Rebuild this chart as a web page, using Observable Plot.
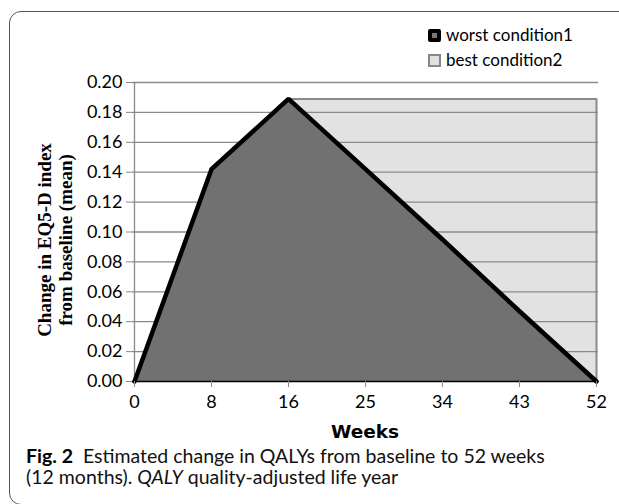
<!DOCTYPE html>
<html>
<head>
<meta charset="utf-8">
<script src="https://cdn.jsdelivr.net/npm/d3@7"></script>
<script src="https://cdn.jsdelivr.net/npm/@observablehq/plot@0.6"></script>
<style>
  html, body { margin: 0; padding: 0; background: #fff; overflow: hidden; }
  #wrap { position: relative; width: 619px; height: 504px; overflow: hidden; background: #fff; }
  #frame { position: absolute; left: 9px; top: 11px; width: 660px; height: 494px; border: 1.3px solid #555; border-radius: 12px; box-sizing: border-box; }
  #chart { position: absolute; left: 0; top: 0; }
  .legend { position: absolute; left: 428px; font-family: Lato, sans-serif; font-size: 17px; color: #000; line-height: 20px; }
  .legend .item { position: absolute; white-space: nowrap; }
  .legend .sw { display: inline-block; width: 13px; height: 13px; box-sizing: border-box; vertical-align: -1px; margin-right: 5px; }
  .sw1 { background: #777; border: 4px solid #000; border-radius: 2px; }
  .sw2 { background: #e1e1e1; border: 2px solid #888; }
  #ylab { position: absolute; left: 55px; top: 240px; transform: translate(-50%, -50%) rotate(-90deg); font-family: "Liberation Serif", "Times New Roman", serif; font-weight: bold; font-size: 19px; line-height: 21px; text-align: center; white-space: nowrap; }
  #xlab { position: absolute; left: 365px; top: 431px; transform: translate(-50%, -50%); font-family: "DejaVu Sans", sans-serif; font-weight: bold; font-size: 18.5px; }
  #caption { position: absolute; left: 26px; top: 445px; font-family: Lato, sans-serif; font-size: 19.5px; line-height: 21px; color: #111; white-space: nowrap; }
  #caption b { font-weight: bold; color: #000; }
</style>
</head>
<body>
<div id="wrap">
  <div id="frame"></div>
  <div id="chart"></div>
  <div class="legend">
    <div class="item" style="top:25px"><span class="sw sw1"></span><span id="lg1"></span></div>
    <div class="item" style="top:50px"><span class="sw sw2"></span><span id="lg2"></span></div>
  </div>
  <div id="ylab"></div>
  <div id="xlab"></div>
  <div id="caption"><b>Fig. 2</b>&nbsp; Estimated change in QALYs from baseline to 52 weeks<br>(12 months). <i>QALY</i> quality-adjusted life year</div>
</div>
<script>
// ---- data ----
const weeks = ["0", "8", "16", "25", "34", "43", "52"];
const worstCondition = [0, 0.142, 0.189, 0.142, 0.095, 0.047, 0];
const bestCondition  = [0, 0.142, 0.189, 0.189, 0.189, 0.189, 0.189];
const yTicks = [0, 0.02, 0.04, 0.06, 0.08, 0.10, 0.12, 0.14, 0.16, 0.18, 0.20];
const seriesNames = ["worst condition1", "best condition2"];
const yLabelLines = ["Change in EQ5-D index", "from baseline (mean)"];
const xLabel = "Weeks";

document.getElementById("lg1").textContent = seriesNames[0];
document.getElementById("lg2").textContent = seriesNames[1];
document.getElementById("ylab").innerHTML = yLabelLines.join("<br>");
document.getElementById("xlab").textContent = xLabel;

const worstData = weeks.map((w, i) => ({week: w, value: worstCondition[i]}));
const bestData = weeks.map((w, i) => ({week: w, value: bestCondition[i]}));
// outline of the light area: flat top from the peak onward, then down the right edge
const peak = bestCondition.indexOf(d3.max(bestCondition));
const bestOutline = bestData.slice(peak).concat([{week: weeks[weeks.length - 1], value: 0}]);

const chart = Plot.plot({
  width: 619,
  height: 420,
  marginTop: 82,
  marginBottom: 39,
  marginLeft: 132,
  marginRight: 21,
  style: {fontFamily: "Lato, sans-serif", background: "transparent", overflow: "visible"},
  x: {type: "point", domain: weeks, padding: 0},
  y: {domain: [0, 0.2]},
  marks: [
    Plot.areaY(bestData, {x: "week", y: "value", fill: "#e2e2e2"}),
    Plot.ruleY(yTicks.slice(1), {stroke: "#8a8a8a", strokeWidth: 1.3}),
    Plot.line(bestOutline, {x: "week", y: "value", stroke: "#8a8a8a", strokeWidth: 2}),
    Plot.areaY(worstData, {x: "week", y: "value", fill: "#717171"}),
    Plot.ruleX([weeks[0]], {y1: () => yTicks[0], y2: () => yTicks[yTicks.length - 1], stroke: "#8a8a8a", strokeWidth: 1.3}),
    Plot.ruleY([0], {stroke: "#000", strokeWidth: 1.5}),
    Plot.line(worstData, {x: "week", y: "value", stroke: "#000", strokeWidth: 4.5, strokeLinejoin: "miter"}),
    Plot.axisY({ticks: yTicks, tickFormat: d3.format(".2f"), tickSize: 6, tickPadding: 4, fontSize: 18, stroke: "#8a8a8a", fill: "#000", label: null}),
    Plot.axisX({tickSize: 6, tickPadding: 8, fontSize: 18, stroke: "#8a8a8a", fill: "#000", label: null})
  ]
});
document.getElementById("chart").appendChild(chart);
</script>
</body>
</html>
